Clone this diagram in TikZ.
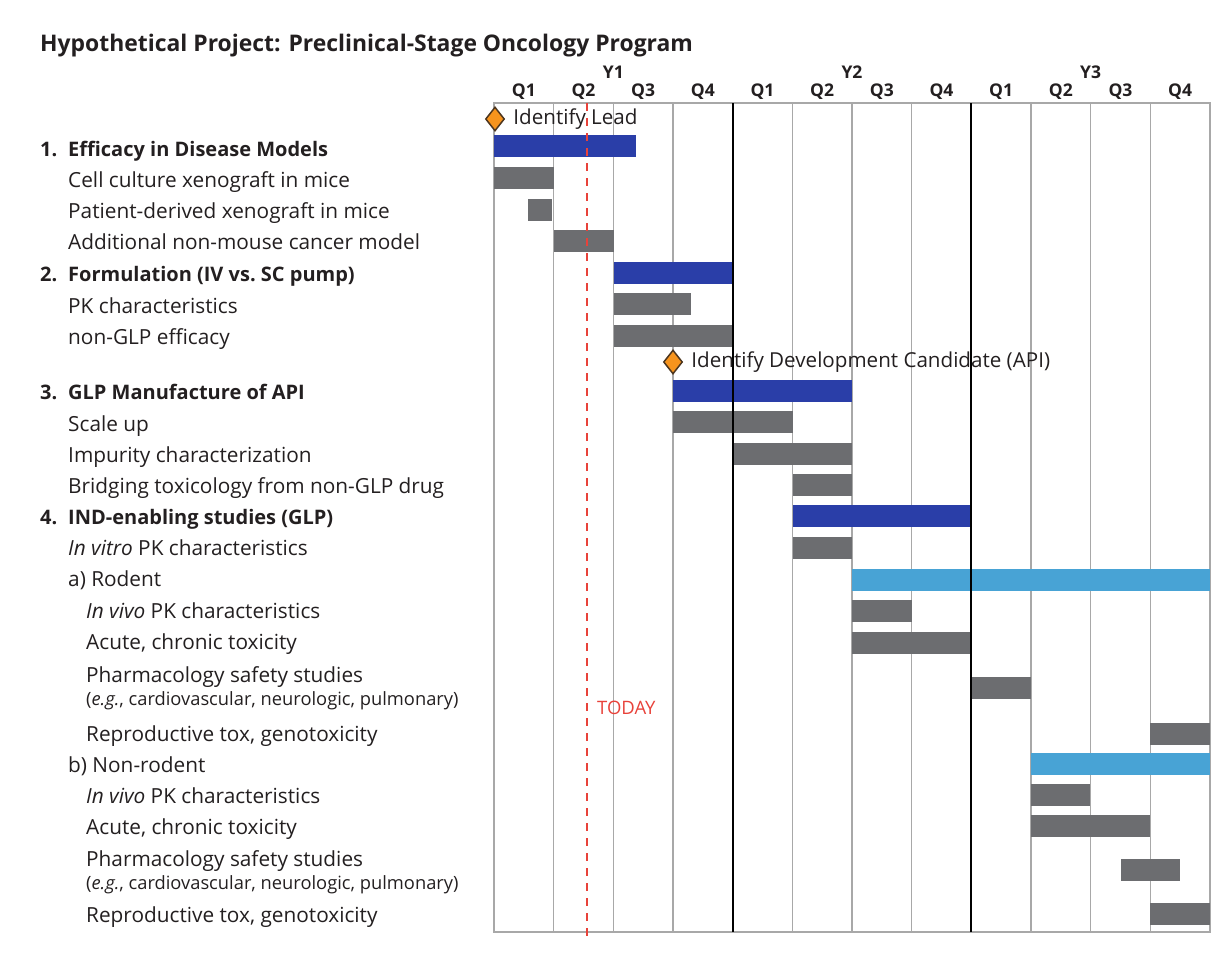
\documentclass[tikz,border=0pt]{standalone}
\usepackage{fontspec}
\setmainfont{Open Sans}
\usetikzlibrary{positioning,shapes.geometric}
\definecolor{barblue}{RGB}{42,62,168}
\definecolor{barsky}{RGB}{72,163,213}
\definecolor{bargray}{RGB}{108,109,112}
\definecolor{gridgray}{RGB}{168,168,168}
\definecolor{todayred}{RGB}{232,66,58}
\definecolor{mileorange}{RGB}{247,148,29}
\definecolor{inkgray}{RGB}{35,31,32}

\begin{document}
\begin{tikzpicture}[x=1pt, y=-1pt,
  lbl/.style={anchor=base west, inner sep=0pt, text=inkgray, font=\fontsize{20.8}{24}\selectfont},
  headlbl/.style={lbl, font=\fontsize{20}{24}\selectfont\bfseries},
  notelbl/.style={lbl, font=\fontsize{18.3}{21}\selectfont},
  qlbl/.style={anchor=base, inner sep=0pt, text=inkgray, font=\fontsize{17.5}{20}\selectfont\bfseries},
  milestone/.style={diamond, draw=inkgray!80!mileorange, fill=mileorange, line width=1.5pt, inner sep=0pt, minimum width=19pt, minimum height=24pt}]
	\useasboundingbox (0,0) rectangle (1230,953);

	% title and time axis
	\node[anchor=base west, inner sep=0pt, text=inkgray, font=\fontsize{22.9}{26}\selectfont\bfseries] (title) at (40,51) {Hypothetical Project: Preclinical-Stage Oncology Program};
	\foreach \yr in {1,2,3}
		\node[qlbl] (y\yr) at ({494+(\yr-1)*238.67+119.33},78) {Y\yr};
	\foreach \q [count=\i from 0] in {1,2,3,4,1,2,3,4,1,2,3,4}
		\node[qlbl] (q\i) at ({494+\i*59.667+29.83},96.5) {Q\q};

	% grid
	\draw[gridgray, line width=1.6pt] (494,103) rectangle (1210,932);
	\foreach \i in {1,2,3,5,6,7,9,10,11}
		\draw[gridgray, line width=1.6pt] ({494+\i*59.667},103) -- ({494+\i*59.667},932);

	% bars: start/end/row centre/colour
	\foreach \a/\b/\r/\c in {494/636/146/barblue, 494/554/178/bargray, 528/552/210/bargray, 554/614/241/bargray,
		614/734/273/barblue, 614/691/304/bargray, 614/733/336/bargray,
		673/852/391/barblue, 673/793/422/bargray, 734/852/454/bargray, 793/852/485/bargray,
		793/971/516/barblue, 793/852/548/bargray,
		852/1210/580/barsky, 852/912/611/bargray, 852/971/643/bargray, 971/1031/688/bargray, 1150/1210/734/bargray,
		1031/1210/764/barsky, 1031/1090/795/bargray, 1031/1150/826/bargray, 1121/1180/870/bargray, 1150/1210/914/bargray}
		\fill[\c] (\a,\r-11) rectangle (\b,\r+11);

	% year boundaries
	\foreach \i in {4,8}
		\draw[black, line width=1.8pt] ({494+\i*59.667},103) -- ({494+\i*59.667},932);

	% today
	\draw[todayred, line width=2.2pt, dash pattern=on 8pt off 7pt] (587,103) -- (587,942);
	\node[anchor=west, inner sep=0pt, text=todayred, font=\fontsize{18.5}{21}\selectfont] (today) at (597,708) {TODAY};

	% milestones
	\node[milestone] (lead) at (495,119) {};
	\node[right=8pt of lead, inner sep=0pt, text=inkgray, font=\fontsize{20.6}{24}\selectfont] (leadtxt) {Identify Lead};
	\node[milestone] (devcand) at (673,362) {};
	\node[right=8pt of devcand, inner sep=0pt, text=inkgray, font=\fontsize{20.6}{24}\selectfont] (devcandtxt) {Identify Development Candidate (API)};

	% task labels
	\node[headlbl] (eff) at (40,156.5) {\makebox[28pt][l]{1.}Efficacy in Disease Models};
	\node[lbl] (cell) at (68,187.5) {Cell culture xenograft in mice};
	\node[lbl] (pdx) at (68,218.5) {Patient-derived xenograft in mice};
	\node[lbl] (addl) at (68,249.5) {Additional non-mouse cancer model};
	\node[headlbl] (form) at (40,281.5) {\makebox[28pt][l]{2.}Formulation (IV vs.\ SC pump)};
	\node[lbl] (pk) at (68,313.5) {PK characteristics};
	\node[lbl] (nonglp) at (68,344.5) {non-GLP efficacy};
	\node[headlbl] (glp) at (40,399.5) {\makebox[28pt][l]{3.}GLP Manufacture of API};
	\node[lbl] (scale) at (68,431.5) {Scale up};
	\node[lbl] (impur) at (68,462.5) {Impurity characterization};
	\node[lbl] (bridge) at (68,493.5) {Bridging toxicology from non-GLP drug};
	\node[headlbl] (ind) at (40,524.5) {\makebox[28pt][l]{4.}IND-enabling studies (GLP)};
	\node[lbl] (invitro) at (68,555.5) {\textit{In vitro} PK characteristics};
	\node[lbl] (rodent) at (68,586.5) {a) Rodent};
	\node[lbl] (rinvivo) at (86,618.5) {\textit{In vivo} PK characteristics};
	\node[lbl] (racute) at (86,649.5) {Acute, chronic toxicity};
	\node[lbl] (rpharm) at (86,682.5) {Pharmacology safety studies};
	\node[notelbl] (rpharmeg) at (86,705.5) {(\textit{e.g.}, cardiovascular, neurologic, pulmonary)};
	\node[lbl] (rrepro) at (86,741.5) {Reproductive tox, genotoxicity};
	\node[lbl] (nonrodent) at (68,772.5) {b) Non-rodent};
	\node[lbl] (ninvivo) at (86,803.5) {\textit{In vivo} PK characteristics};
	\node[lbl] (nacute) at (86,834.5) {Acute, chronic toxicity};
	\node[lbl] (npharm) at (86,866.5) {Pharmacology safety studies};
	\node[notelbl] (npharmeg) at (86,889.5) {(\textit{e.g.}, cardiovascular, neurologic, pulmonary)};
	\node[lbl] (nrepro) at (86,922.5) {Reproductive tox, genotoxicity};
\end{tikzpicture}
\end{document}
